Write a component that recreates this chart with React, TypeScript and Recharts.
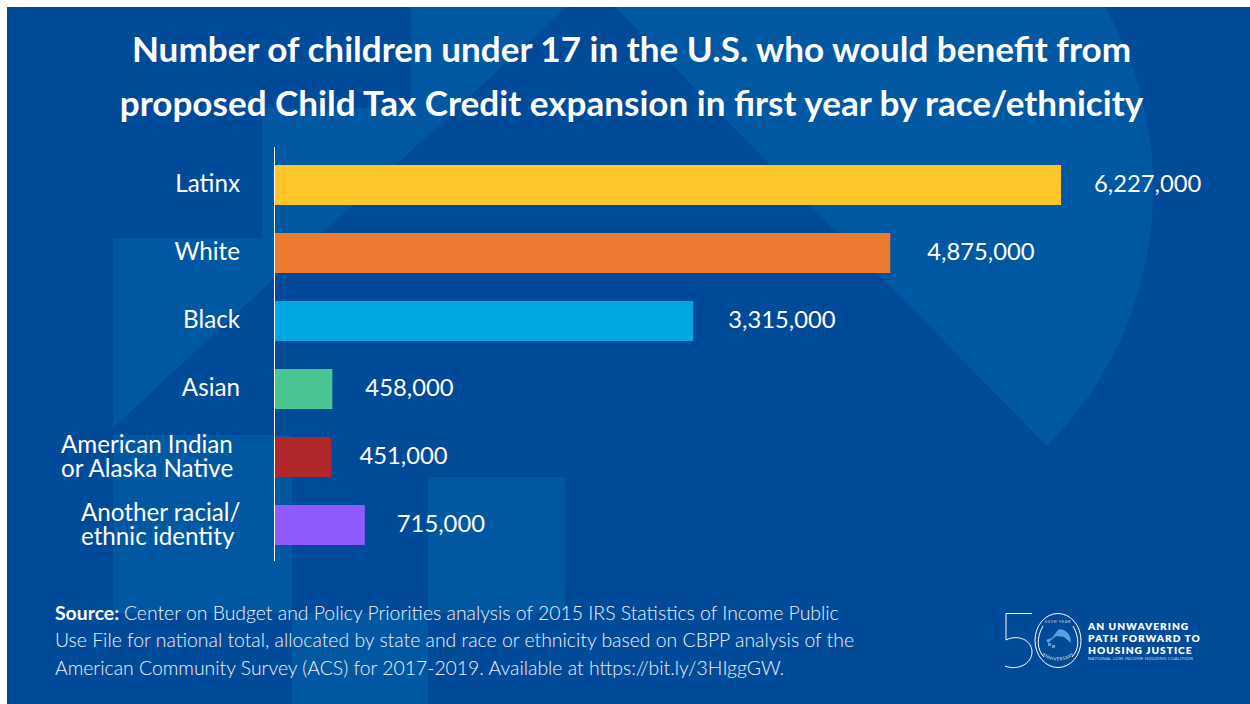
import React from "react";
import { Bar, BarChart, Cell, LabelList, XAxis, YAxis } from "recharts";

const groups = [
  "Latinx",
  "White",
  "Black",
  "Asian",
  "American Indian\nor Alaska Native",
  "Another racial/\nethnic identity",
];
const children = [6227000, 4875000, 3315000, 458000, 451000, 715000];
const barColors = ["#ffc629", "#ec7a31", "#00a9e3", "#4bc494", "#b0282c", "#8f5bff"];

const titleLines = [
  "Number of children under 17 in the U.S. who would benefit from",
  "proposed Child Tax Credit expansion in first year by race/ethnicity",
];
const sourceLines = [
  "Center on Budget and Policy Priorities analysis of 2015 IRS Statistics of Income Public",
  "Use File for national total, allocated by state and race or ethnicity based on CBPP analysis of the",
  "American Community Survey (ACS) for 2017-2019. Available at https://bit.ly/3HIggGW.",
];
const logoLines = ["AN UNWAVERING", "PATH FORWARD TO", "HOUSING JUSTICE"];

const data = groups.map((group, i) => ({ group, total: children[i] }));

const FONT = "Lato, sans-serif";
const BASE = "#004b99";
const LIGHT = "#0058a3";

// two-line group names sit flush left, each with its own left edge
const multiLineLeft: Record<string, number> = {
  American: 61,
  Another: 81,
};

const GroupTick = ({ y, payload }: any) => {
  const lines: string[] = payload.value.split("\n");
  if (lines.length === 1) {
    return (
      <text x={240} y={y + 7} textAnchor="end" fill="#fff" fontFamily={FONT} fontSize={24.2}>
        {lines[0]}
      </text>
    );
  }
  const left = multiLineLeft[lines[0].split(" ")[0]];
  return (
    <text fill="#fff" fontFamily={FONT} fontSize={24.2}>
      <tspan x={left} y={y - 4}>{lines[0]}</tspan>
      <tspan x={left} y={y + 20}>{lines[1]}</tspan>
    </text>
  );
};

// the value labels are set by hand a few px off a common gap
const labelGap = [33, 37, 35, 33, 28, 32];

const ValueLabel = ({ x, y, width, height, value, index }: any) => (
  <text
    x={x + width + labelGap[index]}
    y={y + height / 2 + 7}
    fill="#fff"
    fontFamily={FONT}
    fontSize={23.8}
  >
    {Number(value).toLocaleString("en-US")}
  </text>
);

const Backdrop = () => (
  <svg width={1250} height={704} style={{ position: "absolute", left: 0, top: 0 }}>
    <rect x={7} y={7} width={1243} height={697} fill={BASE} />
    <path d="M411 7V108H262V238H113V428L566 7Z" fill={LIGHT} />
    <path d="M615 7H1105A365.6 365.6 0 0 1 1047 446Z" fill={LIGHT} />
    <rect x={113} y={435} width={179} height={178} fill={LIGHT} />
    <rect x={292} y={613} width={136} height={91} fill={LIGHT} />
    <rect x={428} y={477} width={137} height={136} fill={LIGHT} />
  </svg>
);

const Logo = () => (
  <svg width={1250} height={704} style={{ position: "absolute", left: 0, top: 0 }}>
    <defs>
      <path id="sealBottom" d="M1039 650C1044 664 1072 664 1077 650" />
    </defs>
    <g fill="none" stroke="#fff">
      <path d="M1032 613.5H1006V640C1018 634 1032 640 1032 652C1032 664 1017 671 1005 666" />
      <ellipse cx={1058} cy={640.5} rx={23} ry={27} />
      <path d="M1043 626C1036 638 1037 650 1044 657M1073 626C1080 638 1079 650 1072 657" />
    </g>
    <path d="M1046 640L1052 638L1058 630C1065 628 1071 634 1071 643L1064 637L1056 636L1048 643Z" fill="#4ea5e0" />
    <g fill="#6e94c4">
      <rect x={1048} y={643} width={3} height={3} />
      <rect x={1052} y={645} width={3} height={3} />
    </g>
    <text x={1058} y={623} textAnchor="middle" fontFamily={FONT} fontSize={4} fill="#c9d8ea" letterSpacing={0.6}>
      50TH YEAR
    </text>
    <text fontFamily={FONT} fontSize={4.4} fill="#dfe8f3" letterSpacing={0.5}>
      <textPath href="#sealBottom" startOffset="50%" textAnchor="middle">ANNIVERSARY</textPath>
    </text>
    <text fontFamily={FONT} fontWeight={800} fontSize={10.2} letterSpacing={1} fill="#fff">
      {logoLines.map((line, i) => (
        <tspan key={line} x={1088} y={630 + i * 12.2}>{line}</tspan>
      ))}
    </text>
    <text x={1088} y={660} fontFamily={FONT} fontSize={4.4} fill="#c9d8ea" letterSpacing={0.2}>
      NATIONAL LOW INCOME HOUSING COALITION
    </text>
  </svg>
);

export default function App() {
  return (
    <div style={{ position: "absolute", left: 0, top: 0, width: 1250, height: 704, background: "#fff", overflow: "hidden" }}>
      <Backdrop />
      <div style={{ position: "absolute", left: 0, top: 0 }}>
        <BarChart
          width={1250}
          height={704}
          layout="vertical"
          data={data}
          margin={{ top: 147, right: 189, bottom: 143, left: 0 }}
        >
          <XAxis type="number" domain={[0, 6227000]} hide />
          <YAxis
            type="category"
            dataKey="group"
            width={274.5}
            padding={{ top: 4, bottom: 2 }}
            interval={0}
            tick={<GroupTick />}
            tickLine={false}
            axisLine={{ stroke: "#fff", strokeWidth: 1 }}
          />
          <Bar dataKey="total" barSize={40} isAnimationActive={false}>
            {data.map((row, i) => (
              <Cell key={row.group} fill={barColors[i]} />
            ))}
            <LabelList dataKey="total" content={<ValueLabel />} />
          </Bar>
        </BarChart>
      </div>
      <div style={{ position: "absolute", left: 0, width: 1263, top: 22, textAlign: "center", color: "#fff", fontFamily: FONT, fontWeight: 700, fontSize: 35.1, lineHeight: "53.5px", whiteSpace: "nowrap" }}>
        {titleLines.map((line) => (
          <div key={line}>{line}</div>
        ))}
      </div>
      <div style={{ position: "absolute", left: 55, top: 599, color: "#eef3f9", fontFamily: FONT, fontWeight: 300, fontSize: 19.4, lineHeight: "27.3px", whiteSpace: "nowrap" }}>
        {sourceLines.map((line, i) => (
          <div key={line}>
            {i === 0 && <b style={{ color: "#fff", fontWeight: 700 }}>Source: </b>}
            {line}
          </div>
        ))}
      </div>
      <Logo />
    </div>
  );
}
